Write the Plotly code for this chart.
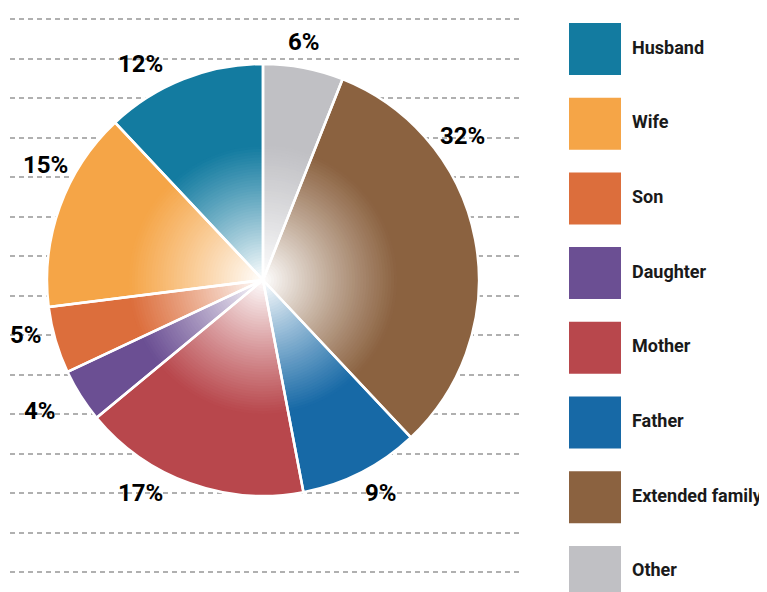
import math
import plotly.graph_objects as go

# ---------------- data ----------------
categories = ["Husband", "Wife", "Son", "Daughter", "Mother", "Father",
              "Extended family", "Other"]
shares = [12, 15, 5, 4, 17, 9, 32, 6]
colors = ["#137ba0", "#f5a547", "#dc6e3c", "#6b4f93", "#b8474c", "#1769a6",
          "#8b6240", "#c0c0c4"]
pct_labels = [f"{v}%" for v in shares]

# ---------------- layout constants (window pixels) ----------------
WIN_W, WIN_H = 767, 592
OFF = 8                              # default page body margin
W, H = WIN_W - OFF, WIN_H - OFF      # figure size
CX, CY, R = 263, 280, 216            # pie centre / radius in window px
GRAD = 0.62                          # fraction of radius covered by white->colour gradient
N_RINGS = 48
LABEL_R = 246                        # px radius of percentage labels
# small manual angular / radial adjustments of label placement (deg, px)
LABEL_NUDGE = {"Husband": (-8, 3), "Wife": (8, 0), "Son": (3, -3), "Daughter": (2, 12),
               "Mother": (10, 0), "Father": (-2, -2), "Extended family": (-25, 0),
               "Other": (-1, -4)}
GRID_Y = [19 + 39.5 * k for k in range(15)]
LEG_X, LEG_TXT_X = 595, 632
LEG_Y0, LEG_DY = 49, 74.7

FONT = "Roboto, Liberation Sans Narrow, Arial Narrow, sans-serif"


def mix(hexc, f):
    f = max(0.0, min(1.0, f))
    h = hexc.lstrip("#")
    r, g, b = (int(h[i:i + 2], 16) for i in (0, 2, 4))
    r = round(255 + (r - 255) * f)
    g = round(255 + (g - 255) * f)
    b = round(255 + (b - 255) * f)
    return f"rgb({r},{g},{b})"


def dom(r):
    return dict(x=[(CX - OFF - r) / W, (CX - OFF + r) / W],
                y=[(WIN_H - CY - r) / H, (WIN_H - CY + r) / H])


fig = go.Figure()

# dummy trace so the dashed grid (y axis) is drawn
fig.add_trace(go.Scatter(x=[100], y=[100], mode="markers", marker=dict(opacity=0),
                         xaxis="x", yaxis="y", hoverinfo="skip", showlegend=False))

# pie is drawn clockwise from 12 o'clock, so feed slices in reverse legend order
common = dict(labels=categories[::-1], values=shares[::-1], sort=False,
              direction="clockwise", rotation=0, textinfo="none",
              hoverinfo="label+percent", showlegend=False)
rev_colors = colors[::-1]

# full-colour disc
fig.add_trace(go.Pie(**common, marker=dict(colors=rev_colors, line=dict(width=0)),
                     domain=dom(R)))
# gradient discs (largest first, smaller on top)
for k in range(N_RINGS, 0, -1):
    r = R * GRAD * k / N_RINGS
    t = (k - 0.5) / N_RINGS
    f = t * (1.15 - 0.15 * t)        # gentle ease-out to hide the gradient edge
    fig.add_trace(go.Pie(**common,
                         marker=dict(colors=[mix(c, f) for c in rev_colors],
                                     line=dict(width=0)),
                         domain=dom(r)))
# white slice separators on top
fig.add_trace(go.Pie(**common,
                     marker=dict(colors=["rgba(0,0,0,0)"] * len(shares),
                                 line=dict(color="white", width=2.5)),
                     domain=dom(R)))

# legend swatches + labels
leg_y = [LEG_Y0 + LEG_DY * i for i in range(len(categories))]
fig.add_trace(go.Scatter(x=[LEG_X] * len(categories), y=leg_y, mode="markers",
                         marker=dict(symbol="square", size=52, color=colors,
                                     line=dict(width=0)),
                         xaxis="x2", yaxis="y2", hoverinfo="skip", showlegend=False))
fig.add_trace(go.Scatter(x=[LEG_TXT_X] * len(categories), y=leg_y, mode="text",
                         text=categories, textposition="middle right",
                         textfont=dict(family=FONT, size=18, color="#1a1a1a",
                                       weight=700),
                         xaxis="x2", yaxis="y2", hoverinfo="skip", showlegend=False))

# percentage labels from slice mid angles (legend order runs anticlockwise from 12)
annotations = []
cum = 0
for cat, v, txt in zip(categories, shares, pct_labels):
    mid = -(cum + v / 2) * 360 / sum(shares)   # clockwise degrees from 12 o'clock
    cum += v
    da, dr = LABEL_NUDGE.get(cat, (0, 0))
    a = math.radians(mid + da)
    rr = LABEL_R + dr
    annotations.append(dict(x=CX + rr * math.sin(a), y=CY - rr * math.cos(a),
                            xref="x2", yref="y2", text=txt,
                            showarrow=False, xanchor="center", yanchor="middle",
                            font=dict(family=FONT, size=24, color="black",
                                      weight=700)))

fig.update_layout(
    width=W, height=H, margin=dict(l=0, r=0, t=0, b=0),
    paper_bgcolor="white", plot_bgcolor="rgba(0,0,0,0)",
    showlegend=False,
    xaxis=dict(domain=[(10 - OFF) / W, (521 - OFF) / W], range=[10, 521],
               visible=False, fixedrange=True, anchor="y"),
    yaxis=dict(domain=[0, 1], range=[WIN_H, OFF], showgrid=True, gridcolor="#b0b0b0",
               gridwidth=2, griddash="5px,4px", tickvals=GRID_Y,
               showticklabels=False, ticks="", showline=False, zeroline=False,
               fixedrange=True, anchor="x"),
    xaxis2=dict(domain=[0, 1], range=[OFF, WIN_W], visible=False, fixedrange=True,
                anchor="y2"),
    yaxis2=dict(domain=[0, 1], range=[WIN_H, OFF], visible=False, fixedrange=True,
                anchor="x2"),
    annotations=annotations,
)

fig.write_html("out.html")
